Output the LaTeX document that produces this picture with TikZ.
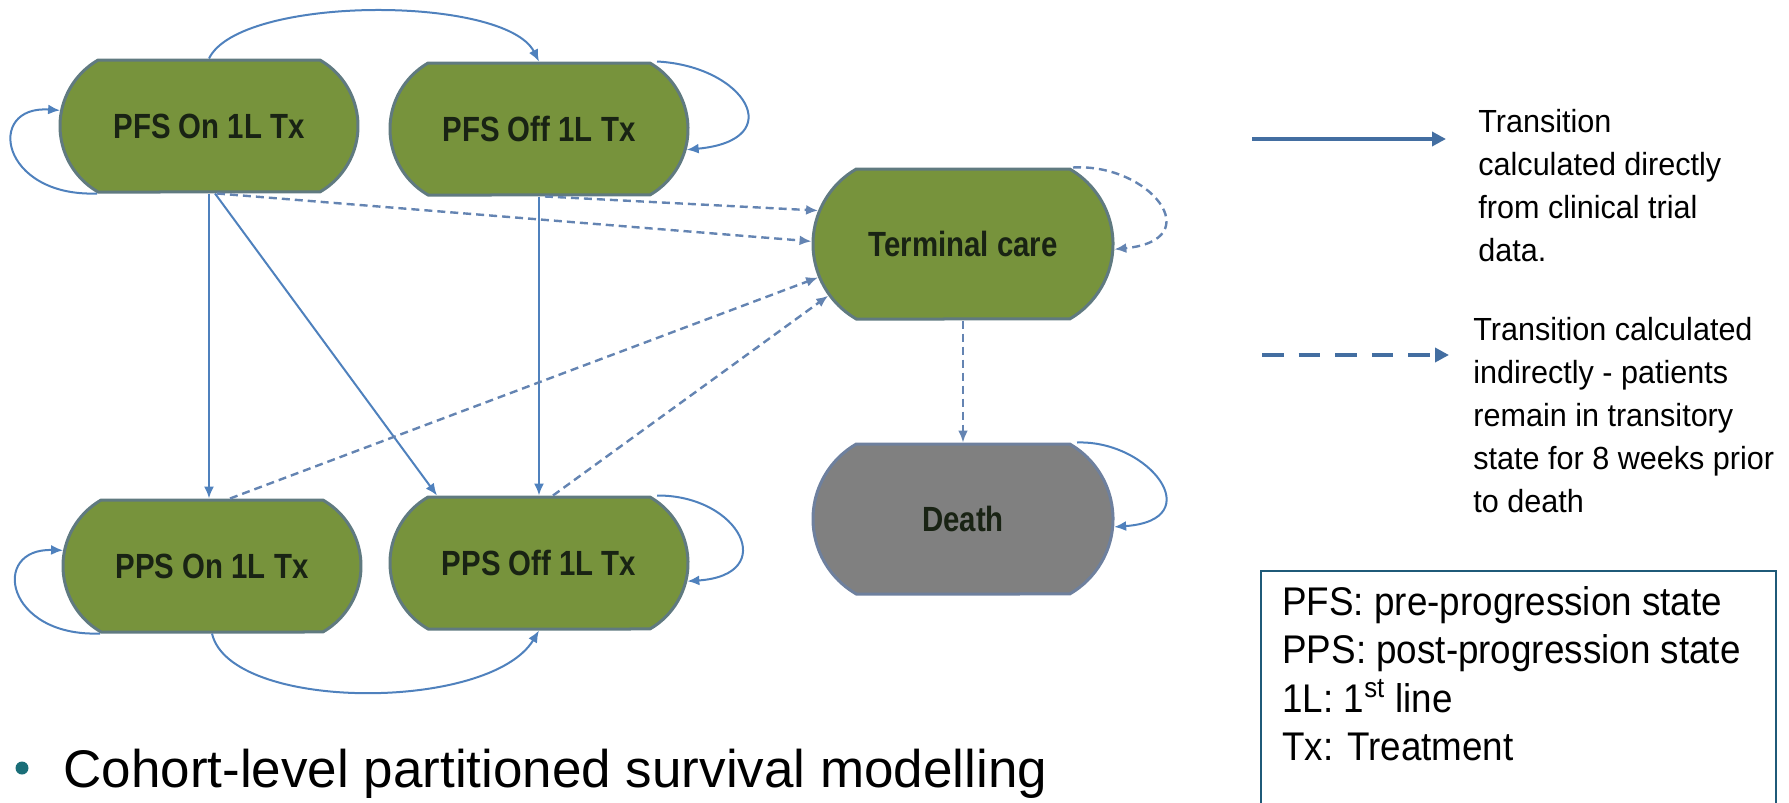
\documentclass[tikz,border=0pt]{standalone}
\usepackage{fontspec}
\setmainfont{Liberation Sans}
\newfontfamily\nodefont{Liberation Sans}[FakeStretch=0.84]
\newfontfamily\legfont{Liberation Sans}[FakeStretch=0.955]
\newfontfamily\abbrfont{Liberation Sans}[FakeStretch=0.92]
\usetikzlibrary{shapes.misc,arrows.meta,calc}
\definecolor{stategreen}{RGB}{119,147,60}
\definecolor{stateborder}{RGB}{96,122,128}
\definecolor{deathgray}{RGB}{128,128,128}
\definecolor{deathborder}{RGB}{110,128,158}
\definecolor{arrowblue}{RGB}{79,129,189}
\definecolor{dashblue}{RGB}{100,132,178}
\definecolor{boxteal}{RGB}{31,90,120}
\definecolor{bulletteal}{RGB}{26,110,120}
\definecolor{statetext}{RGB}{25,35,20}
\tikzset{
  state/.style={rounded rectangle, rounded rectangle arc length=120, draw=stateborder, line width=1.5pt,
    fill=stategreen, minimum width=149pt, minimum height=66pt, inner sep=0pt,
    font=\nodefont\bfseries\fontsize{17.5pt}{20pt}\selectfont, text=statetext},
  termstate/.style={state, minimum height=75pt, minimum width=150pt},
  deathstate/.style={termstate, fill=deathgray, draw=deathborder},
  solidarr/.style={draw=arrowblue, line width=1pt, -{Latex[length=6pt,width=5pt]}},
  dasharr/.style={draw=dashblue, line width=1.2pt, dash pattern=on 4pt off 2.5pt, -{Latex[length=6pt,width=5pt]}},
  legsolid/.style={draw=arrowblue!85!black, line width=2pt, -{Triangle[length=7pt,width=7pt]}},
  legtext/.style={font=\legfont\fontsize{16pt}{21.5pt}\selectfont, align=left, inner sep=0pt, anchor=north west},
  abbrtext/.style={font=\abbrfont\fontsize{20pt}{24.25pt}\selectfont, align=left, inner sep=0pt, anchor=north west}
}
\begin{document}
\begin{tikzpicture}[x=0.5pt,y=-0.5pt]
\useasboundingbox (0,0) rectangle (1789,803);
% states
\node[state] (pfson) at (209,126) {PFS On 1L Tx};
\node[state] (pfsoff) at (539,129) {PFS Off 1L Tx};
\node[termstate] (tc) at (963,244) {Terminal care};
\node[deathstate] (death) at (963,519) {Death};
\node[state] (ppson) at (212,566) {PPS On 1L Tx};
\node[state] (ppsoff) at (539,563) {PPS Off 1L Tx};
% solid transitions
\draw[solidarr] (pfson.north) .. controls (240,-5) and (505,-5) .. (pfsoff.north);
\draw[solidarr] ([xshift=-56pt]pfson.south) .. controls (0,197) and (-15,105) .. (pfson.174);
\draw[solidarr] ([xshift=59pt]pfsoff.north) .. controls (745,66) and (790,140) .. (pfsoff.-8);
\draw[solidarr] (pfson.south) -- (pfson.south |- ppson.north);
\draw[solidarr] ([xshift=3pt]pfson.south) -- ([xshift=-51pt]ppsoff.north);
\draw[solidarr] (pfsoff.south) -- (ppsoff.north);
\draw[solidarr] ([xshift=57pt]death.north) .. controls (1150,440) and (1210,520) .. (death.-3);
\draw[solidarr] ([xshift=-56pt]ppson.south) .. controls (5,637) and (-10,548) .. (ppson.174);
\draw[solidarr] ([xshift=59pt]ppsoff.north) .. controls (740,495) and (780,575) .. (ppsoff.-7);
\draw[solidarr] (ppson.south) .. controls (230,712) and (490,712) .. (ppsoff.south);
% dashed transitions
\draw[dasharr] ([xshift=4pt]pfson.south) -- (tc.179);
\draw[dasharr] ([xshift=3pt]pfsoff.south) -- (tc.167);
\draw[dasharr] ([xshift=9pt]ppson.north) -- (tc.193);
\draw[dasharr] ([xshift=7pt]ppsoff.north) -- (tc.201);
\draw[dasharr] ([xshift=55pt]tc.north) .. controls (1150,163) and (1210,240) .. (tc.-2);
\draw[dasharr] (tc.south) -- (death.north);
% legend
\coordinate (leg1a) at (1252,139);
\coordinate (leg1b) at (1446,139);
\draw[legsolid] (leg1a) -- (leg1b);
\coordinate (leg2a) at (1262,355);
\coordinate (leg2b) at (1449,355);
\draw[legsolid, dash pattern=on 10.8pt off 7.5pt] (leg2a) -- (leg2b);
\node[legtext] (leg1t) at (1478,109) {Transition\\calculated directly\\from clinical trial\\data.};
\node[legtext] (leg2t) at (1473,317) {Transition calculated\\indirectly - patients\\remain in transitory\\state for 8 weeks prior\\to death};
% abbreviations box
\node[draw=boxteal, line width=1pt, anchor=north west, minimum width=257.5pt, minimum height=122pt, inner sep=0pt] (abbrbox) at (1260,570) {};
\node[abbrtext] (abbr) at (1282,586) {PFS: pre-progression state\\PPS: post-progression state\\1L: 1\textsuperscript{st} line\\Tx: Treatment};
% bullet line
\node[circle, fill=bulletteal, minimum size=6.5pt, inner sep=0pt] (bullet) at (22,768) {};
\node[anchor=base west, inner sep=0pt, font=\fontsize{26.5pt}{30pt}\selectfont] (cohort) at (63,787) {Cohort-level partitioned survival modelling};
\end{tikzpicture}
\end{document}
